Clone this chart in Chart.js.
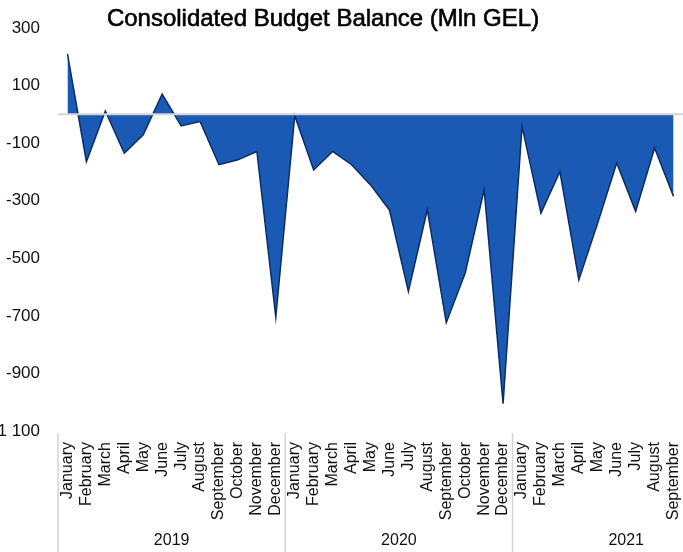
<!DOCTYPE html>
<html><head><meta charset="utf-8">
<script src="https://cdn.jsdelivr.net/npm/chart.js@4"></script>
<style>
html,body{margin:0;padding:0;background:#fff}
#wrap{width:683px;height:552px;position:relative}
</style>
</head><body>
<div id="wrap"><canvas id="c"></canvas></div>
<script>
const titleText = 'Consolidated Budget Balance (Mln GEL)';
const monthNames = ['January','February','March','April','May','June','July','August','September','October','November','December'];
const years = ['2019','2020','2021'];
const monthsPerYear = [12, 12, 9];
const categories = [
  ...monthNames, ...monthNames, ...monthNames.slice(0, 9)
];
const balance2019 = [210, -164, 12, -135, -71, 70, -40, -25, -175, -158, -129, -705];
const balance2020 = [-5, -193, -129, -175, -245, -332, -615, -332, -724, -551, -262, -1005];
const balance2021 = [-42, -343, -199, -575, -377, -169, -337, -117, -285];
const balance = [...balance2019, ...balance2020, ...balance2021];
const yMin = -1100, yMax = 300, yStep = 200;

const FONT = 'Liberation Sans, Arial, sans-serif';

const decorPlugin = {
  id: 'decor',
  afterDatasetsDraw(chart) {
    const ctx = chart.ctx, y = chart.scales.y, a = chart.chartArea;
    const y0 = y.getPixelForValue(0);
    ctx.save();
    ctx.strokeStyle = '#d4d4d4';
    ctx.lineWidth = 2;
    ctx.beginPath();
    ctx.moveTo(a.left, y0);
    ctx.lineTo(a.right, y0);
    ctx.stroke();
    ctx.restore();
  },
  afterDraw(chart) {
    const ctx = chart.ctx, x = chart.scales.x, a = chart.chartArea;
    const step = x.getPixelForValue(1) - x.getPixelForValue(0);
    ctx.save();
    ctx.fillStyle = '#000';
    ctx.strokeStyle = '#000';
    ctx.lineWidth = 0.6;
    ctx.font = '24px ' + FONT;
    ctx.textAlign = 'center';
    ctx.textBaseline = 'alphabetic';
    ctx.fillText(titleText, 323, 26);
    ctx.strokeText(titleText, 323, 26);
    let start = 0;
    ctx.strokeStyle = '#d4d4d4';
    ctx.lineWidth = 1.5;
    ctx.font = '16px ' + FONT;
    ctx.fillStyle = '#111';
    ctx.textBaseline = 'middle';
    years.forEach((yr, i) => {
      const left = x.getPixelForValue(start) - step / 2;
      ctx.beginPath();
      ctx.moveTo(left, a.bottom + 2);
      ctx.lineTo(left, 552);
      ctx.stroke();
      ctx.fillText(yr, left + step * 6, 541);
      start += monthsPerYear[i];
    });
    ctx.restore();
  }
};

new Chart(document.getElementById('c'), {
  type: 'line',
  data: {
    labels: categories,
    datasets: [{
      data: balance,
      fill: 'origin',
      backgroundColor: '#1a5ab4',
      borderColor: '#0a2d66',
      borderWidth: 1.5,
      pointRadius: 0,
      tension: 0
    }]
  },
  options: {
    responsive: true,
    maintainAspectRatio: false,
    animation: false,
    layout: { padding: { top: 28, left: 0, right: 0, bottom: 0 } },
    plugins: { legend: { display: false }, tooltip: { enabled: false }, title: { display: false } },
    scales: {
      x: {
        type: 'category',
        offset: true,
        grid: { display: false, drawTicks: false },
        border: { display: false },
        ticks: {
          autoSkip: false,
          minRotation: 90,
          maxRotation: 90,
          padding: 11,
          color: '#111',
          font: { family: FONT, size: 16 }
        },
        afterFit(s) { s.height = 552 - 28 - 403; s.paddingLeft = 0; s.paddingRight = 0; }
      },
      y: {
        min: yMin,
        max: yMax,
        grid: { display: false, drawTicks: false },
        border: { display: false },
        ticks: {
          stepSize: yStep,
          padding: 18,
          color: '#111',
          font: { family: FONT, size: 17 },
          callback: v => {
            const s = Math.abs(v).toString().replace(/\B(?=(\d{3})+(?!\d))/g, ' ');
            return (v < 0 ? '-' : '') + s;
          }
        },
        afterFit(s) { s.width = 58; s.paddingTop = 0; s.paddingBottom = 0; }
      }
    }
  },
  plugins: [decorPlugin]
});
</script>
</body></html>
